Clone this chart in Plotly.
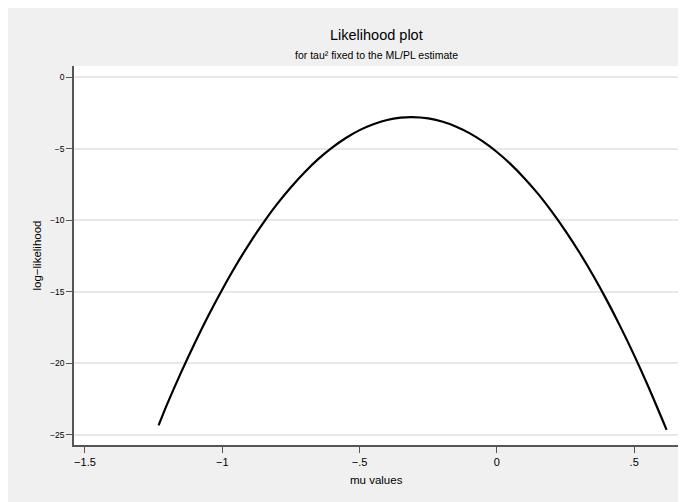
import plotly.graph_objects as go

# values
mu_values = [-1.232, -1.2, -1.15, -1.1, -1.05, -1.0, -0.95, -0.9, -0.85, -0.8, -0.75,
             -0.7, -0.65, -0.6, -0.55, -0.5, -0.45, -0.4, -0.35, -0.31, -0.25, -0.2,
             -0.15, -0.1, -0.05, 0.0, 0.05, 0.1, 0.15, 0.2, 0.25, 0.3, 0.35, 0.4,
             0.45, 0.5, 0.55, 0.618]
loglik = [-24.35, -22.83, -20.64, -18.58, -16.64, -14.84, -13.15, -11.60, -10.17, -8.86, -7.69,
          -6.64, -5.71, -4.92, -4.25, -3.70, -3.29, -2.99, -2.83, -2.79, -2.88, -3.10,
          -3.44, -3.91, -4.51, -5.23, -6.08, -7.06, -8.16, -9.40, -10.76, -12.24, -13.85, -15.59,
          -17.46, -19.45, -21.58, -24.66]

x_tickvals = [-1.5, -1.0, -0.5, 0.0, 0.5]
x_ticktext = ["\u22121.5", "\u22121", "\u2212.5", "0", ".5"]
y_tickvals = [0, -5, -10, -15, -20, -25]
y_ticktext = ["0", "\u22125", "\u221210", "\u221215", "\u221220", "\u221225"]

W, H = 686, 502
OFF = 8  # page body margin
L, R, T, B = 66, 16, 58, 65
pw, ph = W - L - R, H - T - B

def px_x(p):
    return (p - OFF - L) / pw

def px_y(p):
    return (H - B - (p - OFF)) / ph

FONT = "Liberation Sans, Arial, Helvetica, sans-serif"

fig = go.Figure()
fig.add_trace(go.Scatter(
    x=mu_values, y=loglik, mode="lines",
    line=dict(color="black", width=2.2, shape="spline", smoothing=0.8),
    hoverinfo="skip", showlegend=False,
))

fig.update_layout(
    width=W, height=H,
    margin=dict(l=L, r=R, t=T, b=B, pad=0),
    paper_bgcolor="#f0f0f0",
    plot_bgcolor="white",
    font=dict(family=FONT, color="black"),
    showlegend=False,
    annotations=[
        dict(text="Likelihood plot", xref="paper", yref="paper", x=0.5, y=px_y(35),
             showarrow=False, xanchor="center", yanchor="middle",
             font=dict(size=14.5, family=FONT, color="black")),
        dict(text="for tau\u00b2 fixed to the ML/PL estimate", xref="paper", yref="paper",
             x=0.5, y=px_y(55), showarrow=False, xanchor="center", yanchor="middle",
             font=dict(size=10.5, family=FONT, color="black")),
        dict(text="mu values", xref="paper", yref="paper", x=0.5, y=px_y(480),
             showarrow=False, xanchor="center", yanchor="middle",
             font=dict(size=11.5, family=FONT, color="black")),
        dict(text="log\u2212likelihood", xref="paper", yref="paper", x=px_x(36), y=0.5,
             showarrow=False, xanchor="center", yanchor="middle", textangle=-90,
             font=dict(size=11.5, family=FONT, color="black")),
    ],
)

fig.update_xaxes(
    range=[-1.540, 0.6595], tickmode="array", tickvals=x_tickvals, ticktext=x_ticktext,
    ticks="outside", ticklen=6, tickwidth=1.2, tickcolor="#555555",
    showline=True, linecolor="#555555", linewidth=1.5,
    showgrid=False, zeroline=False, tickfont=dict(size=11, family=FONT, color="black"),
)
fig.update_yaxes(
    range=[-25.72, 0.783], tickmode="array", tickvals=y_tickvals, ticktext=y_ticktext,
    ticks="outside", ticklen=6, tickwidth=1.2, tickcolor="#555555",
    showline=True, linecolor="#555555", linewidth=1.5,
    showgrid=True, gridcolor="#e8e8e8", gridwidth=1.5, zeroline=False,
    tickfont=dict(size=8.5, family=FONT, color="black"),
)

fig.write_html("out.html")
